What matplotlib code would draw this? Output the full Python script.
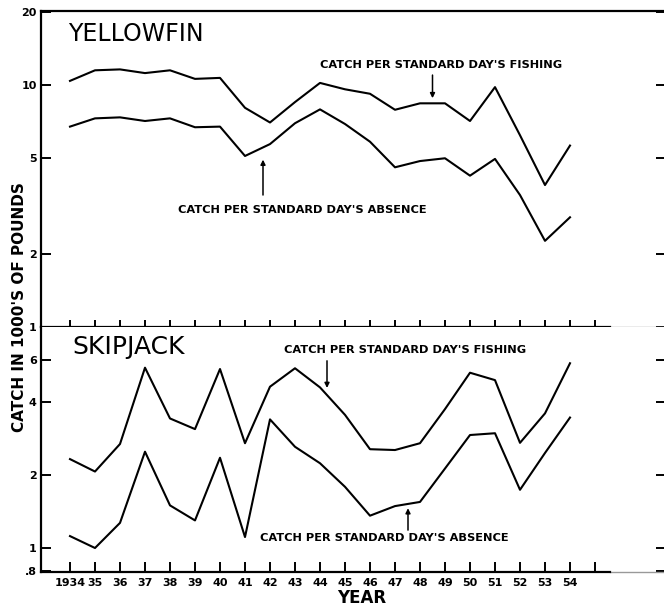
import numpy as np
import matplotlib.pyplot as plt
from matplotlib.ticker import FixedLocator, FixedFormatter, NullLocator

# Anos da série
anos = np.arange(1934, 1955)

# Yellowfin (milhares de libras)
yf_pesca = [10.4, 11.5, 11.6, 11.2, 11.5, 10.6, 10.7, 8.05, 7.0, 8.5, 10.2,
            9.6, 9.2, 7.9, 8.4, 8.4, 7.1, 9.8, 6.2, 3.86, 5.62]
yf_ausencia = [6.73, 7.28, 7.35, 7.1, 7.28, 6.69, 6.73, 5.09, 5.7, 6.95, 7.93,
               6.9, 5.83, 4.57, 4.85, 4.98, 4.22, 4.95, 3.51, 2.27, 2.84]

# Skipjack (milhares de libras)
sj_pesca = [2.33, 2.07, 2.69, 5.56, 3.43, 3.10, 5.49, 2.71, 4.64, 5.53, 4.61,
            3.55, 2.56, 2.54, 2.71, 3.75, 5.3, 4.94, 2.72, 3.6, 5.8]
sj_ausencia = [1.12, 1.0, 1.27, 2.5, 1.5, 1.30, 2.36, 1.11, 3.40, 2.62, 2.24,
               1.79, 1.36, 1.49, 1.55, 2.13, 2.93, 2.98, 1.74, 2.47, 3.46]

# Marcas dos eixos
anos_ticks = np.arange(1934, 1956)
anos_rotulos = ['1934'] + [str(a)[2:] for a in range(1935, 1955)] + ['']
yf_ticks = [1, 2, 5, 10, 20]
yf_rotulos = ['1', '2', '5', '10', '20']
sj_ticks = [0.8, 1, 2, 4, 6]
sj_rotulos = ['.8', '1', '2', '4', '6']

texto_pesca = "CATCH PER STANDARD DAY'S FISHING"
texto_ausencia = "CATCH PER STANDARD DAY'S ABSENCE"

W, H = 664, 608
fig = plt.figure(figsize=(W / 100, H / 100), dpi=100)

esq, dir_ = 41, 666
ax1 = fig.add_axes([esq / W, 1 - 327 / H, (dir_ - esq) / W, (327 - 10.5) / H])
ax2 = fig.add_axes([esq / W, 1 - 572 / H, (dir_ - esq) / W, (572 - 327) / H])

xmin = 1934 - 29 / 25
xmax = 1934 + 596 / 25
fonte = 'DejaVu Sans'


def prepara(ax, ticks, rotulos, ylim, xlen, mostra_anos):
    ax.set_yscale('log')
    ax.set_xlim(xmin, xmax)
    ax.set_ylim(*ylim)
    ax.yaxis.set_major_locator(FixedLocator(ticks))
    ax.yaxis.set_major_formatter(FixedFormatter(rotulos))
    ax.yaxis.set_minor_locator(NullLocator())
    ax.set_xticks(anos_ticks)
    if mostra_anos:
        ax.set_xticklabels(anos_rotulos, fontsize=8, fontweight='bold', family=fonte)
    else:
        ax.set_xticklabels([])
    ax.tick_params(axis='y', which='major', direction='in', length=7, width=1.4,
                   left=True, right=True, labelsize=8, pad=3)
    ax.tick_params(axis='x', which='major', direction='in', length=xlen, width=1.4,
                   bottom=True, top=False, pad=4.5)
    for t in ax.get_yticklabels():
        t.set_fontweight('bold')
    ax.spines['right'].set_visible(False)
    for s in ('left', 'top', 'bottom'):
        ax.spines[s].set_linewidth(1.6)
    ax.spines['bottom'].set_bounds(xmin, 1955.6)
    # prolongamento mais claro da linha de base
    frac = (1955.6 - xmin) / (xmax - xmin)
    ax.axhline(ylim[0], xmin=frac, xmax=1, color='0.6', lw=1.0, clip_on=False)


prepara(ax1, yf_ticks, yf_rotulos, (1, 10 * 10 ** (74.5 / 242)), 5, False)
prepara(ax2, sj_ticks, sj_rotulos, (10 ** (-24 / 242), 10 ** (221 / 242)), 7, True)
ax2.spines['top'].set_visible(False)

ax1.plot(anos, yf_pesca, color='black', lw=1.5)
ax1.plot(anos, yf_ausencia, color='black', lw=1.5)
ax2.plot(anos, sj_pesca, color='black', lw=1.5)
ax2.plot(anos, sj_ausencia, color='black', lw=1.5)

# Títulos das espécies
ax1.text(0.0432, 0.926, 'YELLOWFIN', transform=ax1.transAxes, fontsize=17,
         family=fonte, va='center', ha='left')
ax2.text(0.0496, 0.917, 'SKIPJACK', transform=ax2.transAxes, fontsize=18,
         family=fonte, va='center', ha='left')

# Rótulos das curvas
estilo = dict(fontsize=8.2, fontweight='bold', family=fonte, va='center', ha='left')
ax1.text(0.4464, 0.828, texto_pesca, transform=ax1.transAxes, **estilo)
ax1.text(0.219, 0.370, texto_ausencia, transform=ax1.transAxes, **estilo)
ax2.text(0.389, 0.9065, texto_pesca, transform=ax2.transAxes, **estilo)
ax2.text(0.350, 0.138, texto_ausencia, transform=ax2.transAxes, **estilo)


def seta(ax, ano, serie, fator, y_texto):
    # ponta da seta perto da curva, interpolada em escala log
    v = 10 ** np.interp(ano, anos, np.log10(serie)) * fator
    ax.annotate('', xy=(ano, v), xytext=(ano, y_texto),
                textcoords=('data', 'axes fraction'),
                arrowprops=dict(arrowstyle='-|>', lw=1.1, color='black',
                                mutation_scale=7, shrinkA=0, shrinkB=0))


seta(ax1, 1948.5, yf_pesca, 1.05, 0.796)
seta(ax1, 1941.72, yf_ausencia, 0.89, 0.417)
seta(ax2, 1944.28, sj_pesca, 1.07, 0.862)
seta(ax2, 1947.52, sj_ausencia, 0.96, 0.171)

fig.text(20 / W, 1 - 307 / H, "CATCH IN 1000'S OF POUNDS", rotation=90,
         fontsize=11, fontweight='bold', family=fonte, ha='center', va='center')
fig.text(362 / W, 1 - 598 / H, 'YEAR', fontsize=12, fontweight='bold',
         family=fonte, ha='center', va='center')

fig.savefig('out.png', dpi=100)
